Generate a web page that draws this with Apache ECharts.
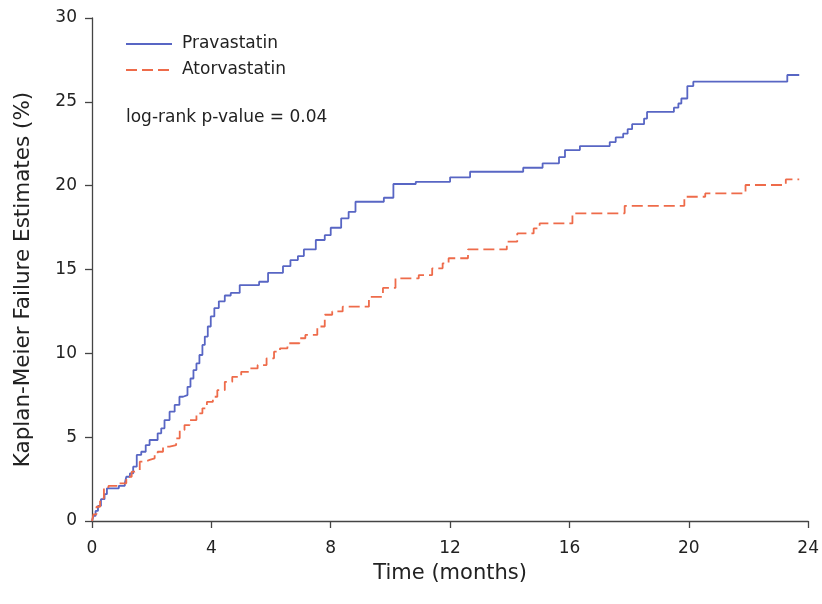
<!DOCTYPE html>
<html>
<head>
<meta charset="utf-8">
<title>Kaplan-Meier Failure Estimates</title>
<script src="https://cdn.jsdelivr.net/npm/echarts@6/dist/echarts.min.js"></script>
<style>
  html, body { margin: 0; padding: 0; background: #fff; }
  #chart { width: 822px; height: 604px; }
</style>
</head>
<body>
<div id="chart"></div>
<script>
// Cumulative failure (%) step points: [month of event, estimate after event]
const pravastatin = [
  [0, 0], [0.05, 0.3], [0.12, 0.6], [0.2, 0.9], [0.3, 1.3], [0.42, 1.6], [0.5, 1.95],
  [0.9, 2.1], [1.1, 2.25], [1.15, 2.64], [1.27, 2.84], [1.38, 3.24], [1.5, 3.94],
  [1.65, 4.13], [1.8, 4.53], [1.93, 4.83], [2.2, 5.23], [2.32, 5.53], [2.43, 6.02],
  [2.6, 6.52], [2.77, 6.92], [2.93, 7.41], [3.05, 7.51], [3.2, 8.0], [3.3, 8.5],
  [3.4, 9.0], [3.5, 9.4], [3.6, 9.9], [3.7, 10.5], [3.78, 11.0], [3.88, 11.6],
  [3.98, 12.2], [4.1, 12.7], [4.25, 13.1], [4.45, 13.45], [4.65, 13.6], [4.95, 14.07],
  [5.6, 14.27], [5.9, 14.8], [6.4, 15.2], [6.65, 15.56], [6.9, 15.8], [7.1, 16.2],
  [7.5, 16.76], [7.8, 17.05], [8.0, 17.49], [8.35, 18.05], [8.6, 18.44], [8.83, 19.04],
  [9.78, 19.28], [10.1, 20.1], [10.85, 20.23], [12.0, 20.5], [12.67, 20.83],
  [14.45, 21.07], [15.1, 21.33], [15.65, 21.7], [15.85, 22.12], [16.35, 22.36],
  [17.35, 22.6], [17.55, 22.88], [17.8, 23.1], [17.95, 23.37], [18.1, 23.67],
  [18.5, 24.0], [18.6, 24.4], [19.5, 24.65], [19.65, 24.9], [19.75, 25.2],
  [19.95, 25.94], [20.15, 26.2], [23.3, 26.6], [23.7, 26.6]
];

const atorvastatin = [
  [0, 0], [0.05, 0.4], [0.15, 0.85], [0.27, 1.35], [0.4, 1.95], [0.55, 2.09],
  [0.88, 2.25], [1.15, 2.64], [1.33, 2.94], [1.44, 3.04], [1.6, 3.54], [1.77, 3.64],
  [1.93, 3.74], [2.1, 3.94], [2.2, 4.13], [2.38, 4.43], [2.6, 4.53], [2.82, 4.93],
  [2.94, 5.43], [3.1, 5.72], [3.27, 6.02], [3.5, 6.42], [3.7, 6.72], [3.85, 7.1],
  [4.05, 7.41], [4.2, 7.8], [4.45, 8.3], [4.7, 8.6], [5.0, 8.9], [5.3, 9.1],
  [5.55, 9.3], [5.85, 9.7], [6.1, 10.1], [6.3, 10.3], [6.55, 10.6], [6.95, 10.9],
  [7.15, 11.1], [7.55, 11.6], [7.8, 12.3], [8.05, 12.5], [8.4, 12.78], [9.28, 13.37],
  [9.75, 13.9], [10.17, 14.47], [10.95, 14.67], [11.4, 15.07], [11.75, 15.37],
  [11.95, 15.67], [12.6, 16.2], [13.9, 16.66], [14.25, 17.15], [14.8, 17.45],
  [15.0, 17.75], [16.1, 18.35], [17.85, 18.8], [19.85, 19.34], [20.55, 19.54],
  [21.9, 20.04], [23.25, 20.37], [23.7, 20.37]
];

const seriesNames = ['Pravastatin', 'Atorvastatin'];
const xTicks = { min: 0, max: 24, interval: 4 };
const yTicks = { min: 0, max: 30, interval: 5 };
const pValueText = 'log-rank p-value = 0.04';
const xTitle = 'Time (months)';
const yTitle = 'Kaplan-Meier Failure Estimates (%)';

const FONT = '"DejaVu Sans", sans-serif';
const INK = '#222';
const AXIS = '#444';
const BLUE = '#5866c4';
const ORANGE = '#ee6b4a';

const chart = echarts.init(document.getElementById('chart'), null, { renderer: 'canvas' });

const axisCommon = {
  type: 'value',
  axisLine: { show: true, onZero: false, lineStyle: { color: AXIS, width: 1.3 } },
  axisTick: { show: true, inside: false, length: 7, lineStyle: { color: AXIS, width: 1.3 } },
  splitLine: { show: false },
  axisLabel: { color: INK, fontFamily: FONT, fontSize: 17 },
  nameTextStyle: { color: INK, fontFamily: FONT, fontSize: 21 }
};

chart.setOption({
  animation: false,
  backgroundColor: '#fff',
  grid: { left: 92, right: 11, top: 18, bottom: 83, containLabel: false },
  title: {
    text: pValueText,
    left: 121,
    top: 104,
    textStyle: { color: INK, fontFamily: FONT, fontSize: 17, fontWeight: 'normal' }
  },
  legend: {
    orient: 'vertical',
    left: 125,
    top: 34,
    padding: 0,
    itemWidth: 46,
    itemHeight: 14,
    itemGap: 6,
    data: seriesNames,
    // line-only keys: the marker symbol is hidden
    itemStyle: { opacity: 0 },
    textStyle: { color: INK, fontFamily: FONT, fontSize: 17, lineHeight: 20, padding: [0, 0, 0, 5] }
  },
  xAxis: Object.assign({}, axisCommon, {
    min: xTicks.min, max: xTicks.max, interval: xTicks.interval,
    axisLabel: Object.assign({}, axisCommon.axisLabel, { margin: 19 }),
    name: xTitle,
    nameLocation: 'middle',
    nameGap: 42
  }),
  yAxis: Object.assign({}, axisCommon, {
    min: yTicks.min, max: yTicks.max, interval: yTicks.interval,
    axisLabel: Object.assign({}, axisCommon.axisLabel, { margin: 15 }),
    name: yTitle,
    nameLocation: 'middle',
    nameGap: 58,
    nameTextStyle: Object.assign({}, axisCommon.nameTextStyle, { fontSize: 21.5, padding: [0, 20, 0, 0] })
  }),
  series: [
    {
      name: seriesNames[0],
      type: 'line',
      step: 'end',
      data: pravastatin,
      showSymbol: false,
      symbol: 'none',
      color: BLUE,
      lineStyle: { color: BLUE, width: 1.8 }
    },
    {
      name: seriesNames[1],
      type: 'line',
      step: 'end',
      data: atorvastatin,
      showSymbol: false,
      symbol: 'none',
      color: ORANGE,
      lineStyle: { color: ORANGE, width: 1.8, type: [11, 5] }
    }
  ]
});
</script>
</body>
</html>
